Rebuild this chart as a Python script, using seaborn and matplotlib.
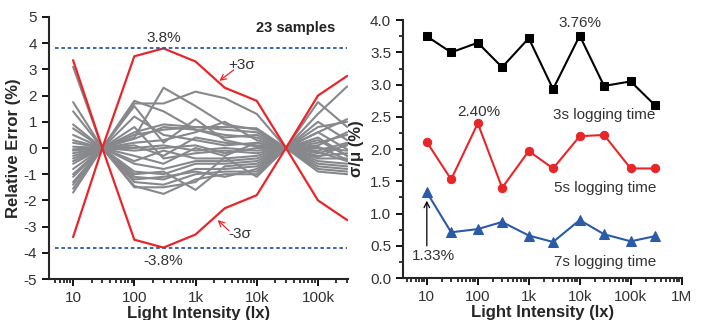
import numpy as np
import pandas as pd
import matplotlib
matplotlib.use("Agg")
from matplotlib import pyplot as plt
from matplotlib.ticker import FixedLocator, LogLocator, NullFormatter, MultipleLocator
import seaborn as sns

# ---- data ----
lux = [10, 30, 100, 300, 1e3, 3e3, 1e4, 3e4, 1e5, 3e5]

# 23 samples, relative error (%) at each light level
samples = [
    [3.1, 0, 1.2, 0.5, 0.3, 0.1, 0.2, 0, 0.6, 1.1],
    [1.75, 0, 1.8, 1.4, 0.7, 0.5, 0.4, 0, 1.75, 0.8],
    [1.4, 0, 0.4, 2.3, 1.6, 0.9, 0.7, 0, 1.3, 2.35],
    [0.9, 0, 1.7, 1.7, 2.15, 1.9, 1.3, 0, 0.4, -0.3],
    [0.75, 0, 0.6, 0.9, 0.8, 0.8, 0.75, 0, 1.0, 0.3],
    [0.5, 0, 0.5, 0.7, 0.8, 0.7, 0.6, 0, 0.2, 0.5],
    [0.3, 0, 1.6, 0.2, 1.1, 0.3, 0.05, 0, -0.2, 0.1],
    [0.2, 0, 0.35, 0.8, 0.7, 0.4, 0.5, 0, 0.8, 1.0],
    [0.05, 0, 0.2, 0.3, 0.6, 1.0, 0.3, 0, 0.1, 0.6],
    [-0.05, 0, 0.1, -0.3, 0.4, 0.2, 0.1, 0, 0.0, -0.1],
    [-0.1, 0, 0.0, 0.1, -0.1, 0.0, -0.1, 0, -0.1, 0.2],
    [-0.2, 0, -0.1, 0.0, 0.1, -0.2, 0.0, 0, 0.6, -0.05],
    [-0.3, 0, 0.8, -0.4, -0.2, -0.1, -0.2, 0, -0.3, -0.2],
    [-0.4, 0, -0.3, -0.6, 0.0, -0.3, 0.2, 0, -0.4, -0.4],
    [-0.5, 0, -0.5, -0.1, -0.4, -0.4, -0.3, 0, -0.15, -0.5],
    [-0.6, 0, -0.6, -0.8, -0.5, -0.5, -0.4, 0, -0.5, -0.6],
    [-0.8, 0, -0.9, -1.0, -0.6, -0.6, -0.5, 0, -0.6, -0.7],
    [-1.0, 0, -1.0, -0.9, -1.6, -0.7, -0.6, 0, 0.05, -0.45],
    [-1.1, 0, -1.1, -1.2, -0.8, -0.8, -0.7, 0, -0.7, -0.8],
    [-1.3, 0, -1.2, -1.1, -0.9, -1.1, -0.8, 0, -0.8, -0.9],
    [-1.4, 0, -1.3, -1.4, -1.0, -0.9, -0.9, 0, -0.9, -1.0],
    [-1.55, 0, -1.45, -1.75, -1.2, -1.0, -1.0, 0, -0.35, 0.15],
    [-1.7, 0, -1.5, -1.5, -1.3, -0.35, -1.1, 0, 0.3, -0.3],
]
plus3s = [3.35, 0, 3.5, 3.8, 3.3, 2.3, 1.8, 0, 2.0, 2.75]
minus3s = [-3.4, 0, -3.5, -3.8, -3.3, -2.3, -1.8, 0, -2.0, -2.75]
limit = 3.82

# sigma/mu (%) for each logging time
cv_3s = [3.75, 3.50, 3.65, 3.27, 3.72, 2.93, 3.76, 2.98, 3.05, 2.68]
cv_5s = [2.11, 1.53, 2.40, 1.40, 1.97, 1.70, 2.20, 2.22, 1.70, 1.70]
cv_7s = [1.33, 0.71, 0.76, 0.87, 0.66, 0.56, 0.90, 0.68, 0.57, 0.65]

x_ticks = [10, 100, 1e3, 1e4, 1e5, 1e6]
x_labels = ["10", "100", "1k", "10k", "100k", "1M"]

RED = "#e8262a"
BLUE = "#2b5aa8"
GRAY = "#86888b"

sns.set_style("ticks")
plt.rcParams["font.family"] = ["Liberation Sans", "DejaVu Sans"]
plt.rcParams.update({
    "axes.unicode_minus": False,
    "axes.linewidth": 1.5,
    "xtick.major.width": 1.3, "ytick.major.width": 1.3,
    "xtick.minor.width": 1.1, "ytick.minor.width": 1.1,
    "xtick.major.size": 5, "ytick.major.size": 5,
    "xtick.minor.size": 3, "ytick.minor.size": 3,
    "xtick.labelsize": 11, "ytick.labelsize": 11,
    "text.color": "#333333", "xtick.color": "black", "ytick.color": "black",
    "xtick.labelcolor": "#333333", "ytick.labelcolor": "#333333",
})

fig = plt.figure(figsize=(7.02, 3.2), dpi=100)
ax1 = fig.add_axes([0.0698, 0.128, 0.426, 0.819])
ax2 = fig.add_axes([0.574, 0.131, 0.397, 0.806])

# ---- left: relative error ----
long = pd.DataFrame(
    [(i, x, v) for i, row in enumerate(samples) for x, v in zip(lux, row)],
    columns=["sample", "lux", "err"],
)
sns.lineplot(data=long, x="lux", y="err", units="sample", estimator=None,
             color=GRAY, lw=1.5, ax=ax1, legend=False)
sns.lineplot(x=lux, y=plus3s, color=RED, lw=1.6, ax=ax1)
sns.lineplot(x=lux, y=minus3s, color=RED, lw=1.6, ax=ax1)
ax1.plot([5, 3e5], [limit, limit], ls=(0, (2, 1.5)), color=BLUE, lw=1.3)
ax1.plot([5, 3e5], [-limit, -limit], ls=(0, (2, 1.5)), color=BLUE, lw=1.3)

ax1.set_xscale("log")
ax1.set_xlim(4.04, 3.1e5)
ax1.set_ylim(-5, 5)
ax1.yaxis.set_major_locator(MultipleLocator(1))
ax1.xaxis.set_major_locator(FixedLocator(x_ticks[:-1]))
ax1.set_xticklabels(x_labels[:-1])
ax1.xaxis.set_minor_locator(LogLocator(base=10, subs=np.arange(2, 10)))
ax1.xaxis.set_minor_formatter(NullFormatter())
ax1.set_xlabel("Light Intensity (lx)", fontsize=12, fontweight="bold", labelpad=1)
ax1.set_ylabel("Relative Error (%)", fontsize=12, fontweight="bold", labelpad=2)

ax1.text(300, 4.2, "3.8%", ha="center", va="center", fontsize=11)
ax1.text(300, -4.3, "-3.8%", ha="center", va="center", fontsize=11)
ax1.text(43000, 4.58, "23 samples", ha="center", va="center",
         fontsize=10.5, fontweight="bold", color="#222222")
ax1.text(5700, 3.17, "+3σ", ha="center", va="center", fontsize=11)
ax1.annotate("", xy=(2450, 2.56), xytext=(4200, 2.98),
             arrowprops=dict(arrowstyle="->", color=RED, lw=0.9, shrinkA=0, shrinkB=0))
ax1.text(5200, -3.3, "-3σ", ha="center", va="center", fontsize=11)
ax1.annotate("", xy=(2300, -2.75), xytext=(3500, -3.15),
             arrowprops=dict(arrowstyle="->", color=RED, lw=0.9, shrinkA=0, shrinkB=0))

# ---- right: sigma/mu ----
cv = pd.DataFrame({"lux": lux, "3s": cv_3s, "5s": cv_5s, "7s": cv_7s})
sns.lineplot(data=cv, x="lux", y="3s", color="black", marker="s", ms=5.5,
             mec="black", lw=1.5, ax=ax2)
sns.lineplot(data=cv, x="lux", y="5s", color=RED, marker="o", ms=6,
             mec=RED, lw=1.5, ax=ax2)
sns.lineplot(data=cv, x="lux", y="7s", color=BLUE, marker="^", ms=6.5,
             mec=BLUE, lw=1.5, ax=ax2)

ax2.set_xscale("log")
ax2.set_xlim(3.4, 1e6)
ax2.set_ylim(0, 4)
ax2.yaxis.set_major_locator(MultipleLocator(0.5))
ax2.yaxis.set_minor_locator(MultipleLocator(0.25))
ax2.yaxis.set_major_formatter(matplotlib.ticker.FormatStrFormatter("%.1f"))
ax2.xaxis.set_major_locator(FixedLocator(x_ticks))
ax2.set_xticklabels(x_labels)
ax2.xaxis.set_minor_locator(LogLocator(base=10, subs=np.arange(2, 10)))
ax2.xaxis.set_minor_formatter(NullFormatter())
ax2.set_xlabel("Light Intensity (lx)", fontsize=12, fontweight="bold", labelpad=1)
ax2.set_ylabel("σ/μ (%)", fontsize=12, fontweight="bold", labelpad=4)

ax2.text(1e4, 3.95, "3.76%", ha="center", va="center", fontsize=11)
ax2.text(105, 2.57, "2.40%", ha="center", va="center", fontsize=11)
ax2.text(3000, 2.53, "3s logging time", ha="left", va="center", fontsize=11)
ax2.text(3100, 1.40, "5s logging time", ha="left", va="center", fontsize=11)
ax2.text(3100, 0.25, "7s logging time", ha="left", va="center", fontsize=11)
ax2.text(13.5, 0.34, "1.33%", ha="center", va="center", fontsize=11)
ax2.annotate("", xy=(10, 1.2), xytext=(10, 0.5),
             arrowprops=dict(arrowstyle="->", color="black", lw=0.9, shrinkA=0, shrinkB=0))

sns.despine(fig=fig)
fig.savefig("out.png", dpi=100)
